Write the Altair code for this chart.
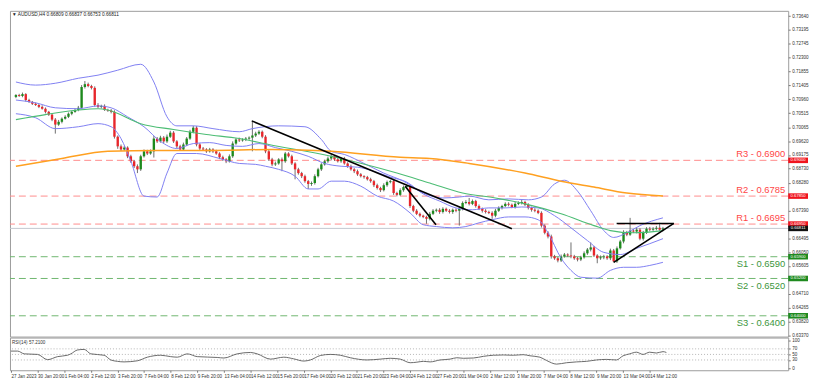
import json
import altair as alt
import pandas as pd

# ---------------- data (prices in pips, x 0.0001) ----------------
first_open = 7104
closes = [
    7110, 7107, 7113, 7094, 7088, 7082, 7078, 7072, 7066, 7056,
    7047, 7031, 7015, 7024, 7034, 7040, 7050, 7056, 7062, 7069,
    7136, 7145, 7139, 7133, 7078, 7072, 7075, 7062, 7060, 7056,
    6976, 6945, 6935, 6941, 6913, 6897, 6881, 6871, 6913, 6929,
    6922, 6929, 6970, 6961, 6973, 6961, 6976, 6989, 6961, 6945,
    6935, 6951, 6970, 6992, 7005, 6951, 6938, 6935, 6929, 6935,
    6929, 6922, 6910, 6903, 6897, 6913, 6954, 6967, 6964, 6967,
    6970, 6973, 6980, 6986, 6992, 6976, 6929, 6903, 6887, 6890,
    6903, 6897, 6922, 6913, 6890, 6871, 6859, 6849, 6833, 6824,
    6827, 6849, 6871, 6887, 6897, 6906, 6913, 6903, 6897, 6906,
    6890, 6881, 6871, 6865, 6855, 6849, 6846, 6839, 6833, 6820,
    6811, 6804, 6820, 6830, 6833, 6795, 6789, 6804, 6814, 6817,
    6753, 6738, 6728, 6722, 6718, 6712, 6728, 6738, 6741, 6734,
    6744, 6738, 6734, 6741, 6738, 6744, 6763, 6766, 6760, 6769,
    6753, 6744, 6738, 6734, 6731, 6722, 6738, 6747, 6753, 6760,
    6757, 6750, 6760, 6763, 6766, 6757, 6747, 6741, 6738, 6731,
    6690, 6667, 6655, 6591, 6585, 6578, 6591, 6597, 6594, 6591,
    6585, 6581, 6588, 6601, 6613, 6620, 6594, 6585, 6588, 6591,
    6585, 6610, 6575, 6617, 6639, 6667, 6661, 6674, 6671, 6677,
    6648, 6667, 6680, 6677, 6680, 6683, 6677, 6681]
upper_wicks = [
    3, 4, 5, 3, 4, 3, 4, 3, 5, 4,
    3, 4, 5, 6, 4, 5, 4, 3, 5, 6,
    6, 10, 5, 4, 5, 6, 4, 5, 4, 5,
    5, 4, 6, 5, 4, 5, 4, 6, 5, 6,
    5, 6, 8, 5, 6, 5, 7, 6, 5, 4,
    5, 6, 5, 6, 6, 5, 4, 5, 4, 5,
    4, 5, 4, 5, 4, 6, 7, 5, 6, 4,
    5, 4, 44, 6, 5, 4, 5, 4, 5, 6,
    4, 6, 5, 4, 5, 4, 5, 4, 5, 4,
    5, 6, 5, 4, 5, 6, 5, 4, 5, 4,
    5, 4, 5, 4, 5, 4, 3, 4, 5, 4,
    5, 4, 6, 5, 4, 5, 4, 6, 5, 4,
    5, 4, 5, 4, 3, 4, 6, 5, 4, 5,
    5, 4, 5, 4, 5, 6, 5, 6, 13, 5,
    4, 5, 4, 5, 4, 5, 6, 5, 4, 5,
    5, 4, 6, 5, 7, 4, 5, 4, 5, 4,
    5, 4, 5, 6, 5, 4, 6, 5, 4, 42,
    5, 4, 5, 6, 5, 16, 5, 4, 6, 5,
    4, 6, 5, 6, 5, 8, 6, 41, 5, 6,
    5, 6, 5, 6, 5, 6, 16, 5]
lower_wicks = [
    4, 3, 4, 5, 3, 4, 3, 4, 3, 5,
    4, 5, 29, 4, 5, 3, 4, 5, 3, 4,
    3, 5, 4, 5, 5, 4, 5, 3, 4, 5,
    6, 8, 5, 4, 6, 5, 6, 12, 5, 4,
    5, 4, 20, 5, 4, 6, 5, 4, 5, 6,
    5, 4, 5, 4, 5, 6, 5, 4, 5, 4,
    5, 4, 6, 5, 6, 4, 5, 4, 5, 4,
    5, 4, 44, 5, 4, 5, 6, 5, 6, 5,
    4, 32, 5, 4, 5, 32, 5, 6, 5, 16,
    6, 5, 4, 5, 4, 5, 6, 5, 4, 5,
    4, 5, 4, 6, 5, 4, 5, 4, 5, 6,
    5, 6, 4, 5, 4, 6, 5, 4, 5, 4,
    6, 5, 4, 5, 4, 16, 5, 4, 5, 6,
    5, 4, 5, 6, 5, 48, 5, 4, 5, 4,
    5, 4, 6, 5, 4, 10, 5, 4, 5, 4,
    5, 4, 5, 4, 5, 4, 5, 6, 5, 4,
    6, 5, 6, 7, 5, 6, 5, 4, 5, 6,
    5, 6, 5, 4, 5, 6, 5, 16, 5, 6,
    5, 6, 3, 5, 4, 6, 5, 4, 5, 6,
    5, 6, 4, 5, 4, 5, 4, 5]

# Bollinger bands (bar index, pips)
bb_upper_bars = [0, 6, 12, 19, 25, 31, 38, 42, 46, 49, 54, 60, 68, 72, 80, 88, 93, 96, 100, 106,
                 112, 118, 124, 130, 135, 138, 144, 150, 156, 160, 164, 167, 171, 175, 179, 182, 186, 190, 197]
bb_upper_vals = [7152, 7142, 7148, 7164, 7174, 7190, 7209, 7152, 7040, 7011, 7011, 7002, 6992, 7002, 7011, 7008, 6967, 6929, 6919, 6890,
                 6859, 6833, 6795, 6779, 6782, 6785, 6773, 6776, 6773, 6782, 6824, 6836, 6801, 6738, 6674, 6652, 6667, 6690, 6715]
bb_mid_bars = [0, 6, 12, 19, 25, 29, 34, 39, 44, 49, 54, 59, 64, 69, 74, 79, 84, 89, 94, 99,
               104, 109, 114, 119, 124, 129, 134, 139, 144, 149, 154, 159, 164, 169, 174, 179, 184, 189, 193, 197]
bb_mid_vals = [7094, 7085, 7069, 7066, 7075, 7069, 7040, 7008, 6961, 6938, 6954, 6957, 6948, 6945, 6954, 6941, 6929, 6913, 6890, 6881,
               6878, 6865, 6846, 6830, 6792, 6769, 6747, 6741, 6747, 6747, 6750, 6747, 6722, 6683, 6642, 6604, 6597, 6617, 6632, 6648]
bb_lower_bars = [0, 6, 12, 19, 25, 29, 32, 35, 39, 43, 46, 49, 55, 62, 68, 73, 76, 80, 85, 89, 92, 96, 100,
                 105, 110, 115, 120, 124, 128, 133, 137, 141, 145, 150, 155, 159, 162, 166, 169, 172, 177, 181, 185, 189, 193, 197]
bb_lower_vals = [7050, 7037, 7002, 7008, 7018, 7008, 6970, 6897, 6785, 6782, 6859, 6922, 6922, 6906, 6890, 6887, 6881, 6871, 6849, 6808, 6808, 6833, 6833,
                 6817, 6785, 6769, 6731, 6693, 6687, 6683, 6687, 6699, 6709, 6718, 6718, 6709, 6667, 6585, 6546, 6524, 6521, 6546, 6556, 6556, 6562, 6572]

# moving averages (bar index, pips)
ma_green_bars = [0, 9, 19, 25, 28, 38, 48, 58, 68, 77, 96, 116, 126, 136, 146, 155, 166, 176, 181, 188, 197]
ma_green_vals = [7031, 7047, 7062, 7066, 7062, 7018, 6999, 6983, 6970, 6951, 6913, 6859, 6827, 6795, 6779, 6760, 6728, 6690, 6674, 6667, 6674]
ma_orange_bars = [0, 14, 28, 43, 58, 78, 96, 117, 126, 138, 155, 166, 176, 186, 197]
ma_orange_vals = [6881, 6906, 6929, 6932, 6932, 6935, 6929, 6910, 6906, 6890, 6859, 6833, 6814, 6795, 6785]

# RSI(14)
rsi_bars = [0, 2, 4, 8, 11, 14, 17, 18, 20, 22, 24, 28, 30, 32, 34, 38, 41, 45, 48, 50, 53, 56, 62, 64, 68, 72, 74,
            78, 82, 85, 88, 90, 93, 96, 99, 102, 107, 111, 114, 117, 120, 122, 124, 126, 129, 132, 134, 136, 139, 142,
            145, 148, 151, 154, 156, 159, 161, 164, 167, 170, 173, 176, 179, 182, 184, 186, 188, 190, 192, 194, 196, 197]
rsi_vals = [62, 62, 52, 50, 31, 42, 47, 52, 66, 68, 52, 47, 30, 25, 23, 27, 40, 47, 42, 40, 52, 42, 39, 37, 52, 57, 52,
            33, 40, 34, 26, 30, 46, 50, 47, 38, 30, 33, 36, 33, 20, 22, 25, 23, 30, 33, 38, 36, 37, 43,
            47, 48, 47, 49, 45, 40, 28, 15, 20, 23, 25, 30, 32, 30, 45, 52, 58, 50, 58, 55, 60, 57]

# trend lines (bar index, pips)
trend_ids = ["t1", "t1", "t2", "t2", "t3", "t3", "t4", "t4"]
trend_bars = [71.8, 151.0, 118.5, 127.9, 182.9, 200.3, 182.0, 200.3]
trend_vals = [7027, 6680, 6817, 6693, 6697, 6697, 6572, 6697]

# support / resistance
res_prices = [0.6900, 0.6785, 0.6695]
res_labels = ["R3 - 0.6900", "R2 - 0.6785", "R1 - 0.6695"]
sup_prices = [0.6590, 0.6520, 0.6400]
sup_labels = ["S1 - 0.6590", "S2 - 0.6520", "S3 - 0.6400"]
last_price = 0.66811

# price scale labels (those hidden behind the level boxes are left out)
price_ticks = [0.73640, 0.73195, 0.72745, 0.72300, 0.71855, 0.71405, 0.70960, 0.70515, 0.70065, 0.69620,
               0.69175, 0.68730, 0.68280, 0.67390, 0.66495, 0.66050, 0.65605,
               0.64710, 0.64265, 0.63820, 0.63370]
rsi_ticks = [0, 30, 50, 70, 100]
time_labels = ["27 Jan 2023", "30 Jan 20:00", "1 Feb 04:00", "2 Feb 12:00", "3 Feb 20:00", "7 Feb 04:00",
               "8 Feb 12:00", "9 Feb 20:00", "13 Feb 04:00", "14 Feb 12:00", "15 Feb 20:00", "17 Feb 04:00",
               "20 Feb 12:00", "21 Feb 20:00", "23 Feb 04:00", "24 Feb 12:00", "27 Feb 20:00", "1 Mar 04:00",
               "2 Mar 12:00", "3 Mar 20:00", "7 Mar 04:00", "8 Mar 12:00", "9 Mar 20:00", "13 Mar 04:00",
               "14 Mar 12:00"]
title_text = "\u25bc AUDUSD,H4  0.66809 0.66837 0.66753 0.66811"
rsi_title = "RSI(14) 57.2100"

assert len(closes) == len(upper_wicks) == len(lower_wicks)

# ---------------- frames ----------------
P = 10000.0
rows = []
prev = first_open
for i, c in enumerate(closes):
    o = prev
    rows.append(dict(bar=i, open=o / P, close=c / P,
                     high=(max(o, c) + upper_wicks[i]) / P,
                     low=(min(o, c) - lower_wicks[i]) / P,
                     dir="up" if c >= o else "down"))
    prev = c
cdf = pd.DataFrame(rows)


def series(bars, vals, name, scale=P):
    return pd.DataFrame({"bar": bars, "v": [v / scale for v in vals], "s": name})


bbdf = pd.concat([series(bb_upper_bars, bb_upper_vals, "u"),
                  series(bb_mid_bars, bb_mid_vals, "m"),
                  series(bb_lower_bars, bb_lower_vals, "l")])
gdf = series(ma_green_bars, ma_green_vals, "g")
odf = series(ma_orange_bars, ma_orange_vals, "o")
tdf = pd.DataFrame({"bar": trend_bars, "v": [v / P for v in trend_vals], "s": trend_ids})
rdf = pd.DataFrame({"price": res_prices, "label": res_labels,
                    "box": [f"{p:.5f}" for p in res_prices]})
sdf = pd.DataFrame({"price": sup_prices, "label": sup_labels,
                    "box": [f"{p:.5f}" for p in sup_prices]})
ldf = pd.DataFrame({"price": [last_price], "box": [f"{last_price:.5f}"]})
rsidf = pd.DataFrame({"bar": rsi_bars, "v": rsi_vals})

# ---------------- scales / axes ----------------
xs = alt.Scale(domain=[-0.298, 233.63], nice=False, zero=False)
ys = alt.Scale(domain=[0.633312, 0.738089], nice=False, zero=False)
rs = alt.Scale(domain=[-7.1, 110.7], nice=False, zero=False)
FONT = "Liberation Sans"

yaxis = alt.Axis(orient="right", values=price_ticks, format=".5f", labelFontSize=4.6, labelFont=FONT,
                 tickSize=2, labelPadding=1.5, domain=False, grid=False, title=None, labelColor="#333333",
                 tickColor="#777777", labelOverlap=False, labelFlush=False)
xaxis = alt.Axis(values=[8 * k for k in range(len(time_labels))],
                 labelExpr=json.dumps(time_labels) + "[round(datum.value/8)]", labelAlign="left",
                 labelBaseline="top", labelFontSize=4.6, labelFont=FONT, tickSize=2, labelPadding=1,
                 domain=False, grid=False, title=None, labelColor="#333333", tickColor="#777777",
                 labelOverlap=False, labelFlush=False)
raxis = alt.Axis(orient="right", values=rsi_ticks, format="d", labelFontSize=4.6, labelFont=FONT,
                 tickSize=2, labelPadding=1.5, domain=False, grid=False, title=None, labelColor="#333333",
                 tickColor="#777777", labelOverlap=False, labelFlush=False)


def X():
    return alt.X("bar:Q", scale=xs, axis=None)


def Y(field):
    return alt.Y(field, scale=ys, axis=yaxis)


box_shape = "M-1,-0.28L1,-0.28L1,0.28L-1,0.28Z"

level_res = alt.Chart(rdf).mark_rule(color="#ff8c8c", strokeDash=[7, 4], strokeWidth=1).encode(
    y=Y("price:Q"))
level_sup = alt.Chart(sdf).mark_rule(color="#6fb66f", strokeDash=[7, 4], strokeWidth=1).encode(
    y=Y("price:Q"))
last_line = alt.Chart(ldf).mark_rule(color="#c3c7cf", strokeWidth=1).encode(y=Y("price:Q"))

wicks = alt.Chart(cdf).mark_rule(color="#6e6e6e", strokeWidth=1).encode(
    x=X(), y=Y("low:Q"), y2="high:Q")
bodies = alt.Chart(cdf).mark_bar(size=2.4).encode(
    x=X(), y=Y("open:Q"), y2="close:Q",
    color=alt.Color("dir:N", scale=alt.Scale(domain=["up", "down"], range=["#1d8a1d", "#e8262b"]), legend=None))

bb = alt.Chart(bbdf).mark_line(color="#8080f2", strokeWidth=1, interpolate="monotone").encode(
    x=X(), y=Y("v:Q"), detail="s:N")
mag = alt.Chart(gdf).mark_line(color="#4cbd74", strokeWidth=1.1, interpolate="monotone").encode(
    x=X(), y=Y("v:Q"))
mao = alt.Chart(odf).mark_line(color="#ffa020", strokeWidth=1.5, interpolate="monotone").encode(
    x=X(), y=Y("v:Q"))
trend = alt.Chart(tdf).mark_line(color="#000000", strokeWidth=1.6).encode(
    x=X(), y=Y("v:Q"), detail="s:N")

res_text = alt.Chart(rdf).mark_text(align="right", baseline="bottom", dy=-1.5, fontSize=9.5, font=FONT,
                                    color="#ff4747").encode(
    y=Y("price:Q"), x=alt.value(783), text="label:N")
sup_text = alt.Chart(sdf).mark_text(align="right", baseline="top", dy=2.5, fontSize=9.5, font=FONT,
                                    color="#3c963c").encode(
    y=Y("price:Q"), x=alt.value(783), text="label:N")


def boxes(df, colour):
    b = alt.Chart(df).mark_point(shape=box_shape, size=400, filled=True, opacity=1, strokeWidth=0,
                                 color=colour).encode(y=Y("price:Q"), x=alt.value(796))
    t = alt.Chart(df).mark_text(fontSize=4.2, font=FONT, color="white", align="center",
                                baseline="middle").encode(y=Y("price:Q"), x=alt.value(796), text="box:N")
    return b + t


title_mark = alt.Chart(pd.DataFrame({"t": [title_text]})).mark_text(
    align="left", baseline="middle", fontSize=4.8, font=FONT, color="#222222").encode(
    x=alt.value(2), y=alt.value(4), text="t:N")

main = alt.layer(level_res, level_sup, last_line, wicks, bodies, bb, mag, mao, trend,
                 res_text, sup_text, boxes(rdf, "#f0141e"), boxes(sdf, "#1f8a1f"),
                 boxes(ldf, "#111111"), title_mark).properties(width=786, height=329)

# ---------------- RSI panel ----------------
rsi_levels = alt.Chart(pd.DataFrame({"v": [30, 50, 70]})).mark_rule(
    color="#b5b5b5", strokeDash=[1, 2], strokeWidth=1).encode(y=alt.Y("v:Q", scale=rs, axis=raxis))
rsi_line = alt.Chart(rsidf).mark_line(color="#5a5a5a", strokeWidth=0.9, interpolate="monotone").encode(
    x=alt.X("bar:Q", scale=xs, axis=xaxis), y=alt.Y("v:Q", scale=rs, axis=raxis))
rsi_lab = alt.Chart(pd.DataFrame({"t": [rsi_title]})).mark_text(
    align="left", baseline="middle", fontSize=4.6, font=FONT, color="#333333").encode(
    x=alt.value(2), y=alt.value(5), text="t:N")

rsi = alt.layer(rsi_levels, rsi_line, rsi_lab).properties(width=786, height=33)

chart = alt.vconcat(main, rsi, spacing=1, bounds="flush").properties(
    padding=0, background="white").configure_view(stroke="#9c9c9c", strokeWidth=1)

chart.save("out.html", embed_options={"renderer": "svg", "actions": False})
